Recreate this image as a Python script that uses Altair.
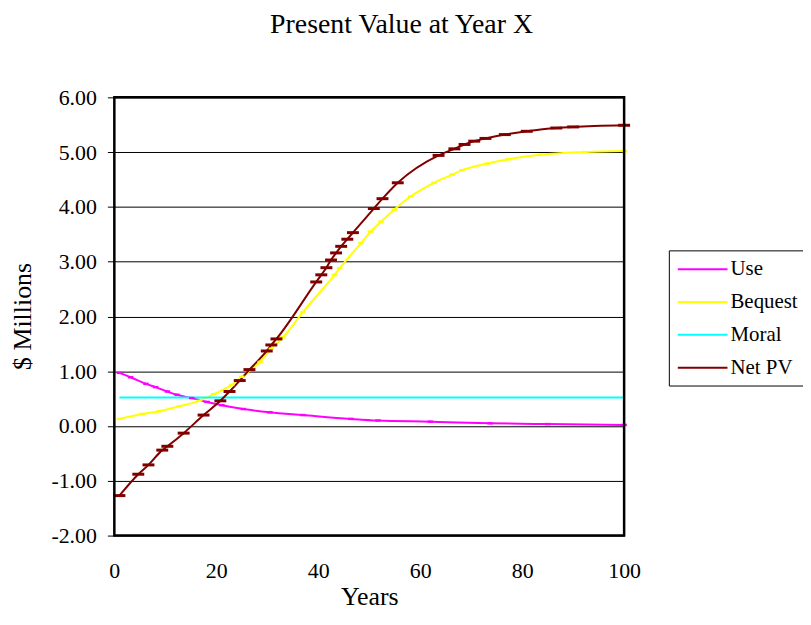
import altair as alt
import pandas as pd

chart_title = "Present Value at Year X"
series_order = ["Use", "Bequest", "Moral", "Net PV"]
series_colors = ["#FF00FF", "#FFFF00", "#00FFFF", "#800000"]

use_years = [1, 3.2, 6.2, 8.1, 10.4, 12.3, 15.2, 18.2, 21.1, 25.3, 30.5, 37, 46.4, 51.7, 62, 73.7, 85, 100]
use_vals = [0.97, 0.89, 0.77, 0.71, 0.63, 0.57, 0.51, 0.44, 0.38, 0.31, 0.25, 0.20, 0.13, 0.10, 0.08, 0.05, 0.035, 0.02]

bequest_years = [1, 5.5, 8.8, 12.7, 16.6, 19.5, 23, 25, 28.6, 30.8, 33.1, 37, 43.2, 44.2, 48.4, 50.3, 52.3,
                 54.9, 58.1, 62.7, 66.3, 68.2, 73.1, 77.3, 83.5, 92.3, 100]
bequest_vals = [0.13, 0.22, 0.27, 0.36, 0.46, 0.58, 0.75, 0.90, 1.17, 1.41, 1.62, 2.08, 2.76, 2.88, 3.34, 3.55, 3.73,
                3.95, 4.19, 4.44, 4.59, 4.67, 4.79, 4.87, 4.95, 5.00, 5.02]

moral_years = [1, 100]
moral_vals = [0.52, 0.52]

net_years = [1, 4.7, 6.7, 9.4, 10.4, 13.6, 17.5, 20.8, 22.6, 24.6, 26.5, 29.9, 30.8, 31.8, 39.6, 40.6, 41.6,
             42.5, 43.5, 44.5, 45.7, 46.8, 50.9, 52.6, 55.6, 63.6, 66.7, 68.7, 70.6, 72.8, 76.6, 80.9, 86.7, 90, 100]
net_vals = [-1.27, -0.88, -0.71, -0.44, -0.37, -0.13, 0.20, 0.46, 0.63, 0.83, 1.03, 1.37, 1.48, 1.59, 2.63, 2.76, 2.89,
            3.03, 3.16, 3.28, 3.41, 3.53, 3.97, 4.15, 4.44, 4.94, 5.06, 5.14, 5.20, 5.25, 5.32, 5.38, 5.44, 5.46, 5.49]

y_ticks = [-2, -1, 0, 1, 2, 3, 4, 5, 6]
x_ticks = [0, 20, 40, 60, 80, 100]

rows = []
for name, xs, ys in [("Use", use_years, use_vals), ("Bequest", bequest_years, bequest_vals),
                     ("Moral", moral_years, moral_vals), ("Net PV", net_years, net_vals)]:
    for xv, yv in zip(xs, ys):
        rows.append({"series": name, "year": xv, "value": yv, "order": series_order.index(name)})
df = pd.DataFrame(rows)

FONT = "Liberation Serif"

x_enc = alt.X("year:Q", scale=alt.Scale(domain=[0, 100], nice=False),
              axis=alt.Axis(values=x_ticks, title="Years", grid=False, ticks=False, tickSize=0, domain=False,
                            labelFlush=False, labelOverlap=False,
                            labelFont=FONT, labelFontSize=22, labelColor="black", labelBaseline="alphabetic",
                            labelPadding=42, titleFont=FONT, titleFontSize=26, titleFontWeight="normal",
                            titleColor="black", titleBaseline="alphabetic", titleY=69))
y_enc = alt.Y("value:Q", scale=alt.Scale(domain=[-2, 6], nice=False, zero=False),
              axis=alt.Axis(values=y_ticks, title="$ Millions", grid=True, gridColor="black", gridWidth=1,
                            gridOpacity=1, ticks=True, tickSize=7, tickColor="black", tickWidth=1, domain=False,
                            labelFlush=False, labelOverlap=False,
                            labelExpr="(datum.value < 0 ? '-' : '') + format(abs(datum.value), '.2f')",
                            labelFont=FONT, labelFontSize=22, labelColor="black", labelPadding=11,
                            titleFont=FONT, titleFontSize=26, titleFontWeight="normal", titleColor="black",
                            titleBaseline="alphabetic", titleX=-84, titleY=220, titleAngle=-90))

color_scale = alt.Scale(domain=series_order, range=series_colors)

lines = alt.Chart(df).mark_line(strokeWidth=2, interpolate="monotone").encode(
    x=x_enc, y=y_enc,
    color=alt.Color("series:N", scale=color_scale, sort=series_order,
                    legend=alt.Legend(title=None, orient="none", legendX=558, legendY=154,
                                      symbolType="M-1,0H4", symbolSize=400, symbolStrokeWidth=2,
                                      labelFont=FONT, labelFontSize=21, labelColor="black", labelOffset=32,
                                      rowPadding=12, padding=8, strokeColor="black", fillColor="white",
                                      labelLimit=200)),
    order="order:Q",
)

net_markers = alt.Chart(df).transform_filter(alt.datum.series == "Net PV").mark_point(
    shape="stroke", size=144, strokeWidth=3, filled=False, opacity=1
).encode(x="year:Q", y="value:Q", color=alt.Color("series:N", scale=color_scale, legend=None))

small_markers = alt.Chart(df).transform_filter(
    (alt.datum.series == "Use") | (alt.datum.series == "Bequest")
).mark_point(shape="stroke", size=30, strokeWidth=2.5, filled=False, opacity=1).encode(
    x="year:Q", y="value:Q", color=alt.Color("series:N", scale=color_scale, legend=None))

frame = alt.Chart(pd.DataFrame({"f": [0]})).mark_rect(
    fillOpacity=0, stroke="black", strokeWidth=2.5
).encode(x=alt.value(0), x2=alt.value("width"), y=alt.value(0), y2=alt.value("height"))

title_layer = alt.Chart(pd.DataFrame({"t": [chart_title]})).mark_text(
    font=FONT, fontSize=28, color="black", align="center", baseline="alphabetic"
).encode(text="t:N", x=alt.value(289), y=alt.value(-65))

chart = alt.layer(lines, small_markers, net_markers, frame, title_layer).properties(
    width=513, height=441,
    padding={"left": 107, "top": 88, "right": 180, "bottom": 75},
    autosize=alt.AutoSizeParams(type="none"),
).configure_view(stroke=None).configure(background="white")

chart.save("out.html", embed_options={"renderer": "svg", "actions": False})
